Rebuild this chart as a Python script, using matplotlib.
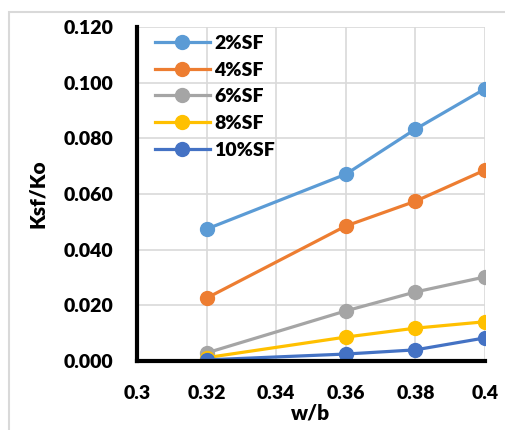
import matplotlib.pyplot as plt
from matplotlib.patches import Rectangle

wb = [0.32, 0.36, 0.38, 0.40]
sf_labels = ['2%SF', '4%SF', '6%SF', '8%SF', '10%SF']
ksf_2 = [0.0474, 0.0671, 0.0833, 0.0978]
ksf_4 = [0.0226, 0.0485, 0.0574, 0.0686]
ksf_6 = [0.0029, 0.0180, 0.0248, 0.0302]
ksf_8 = [0.0012, 0.0086, 0.0118, 0.0141]
ksf_10 = [0.0004, 0.0025, 0.0040, 0.0083]
xticks = [0.30, 0.32, 0.34, 0.36, 0.38, 0.40]
xtick_labels = ['0.3', '0.32', '0.34', '0.36', '0.38', '0.4']
yticks = [0.0, 0.02, 0.04, 0.06, 0.08, 0.10, 0.12]

colors = ['#5B9BD5', '#ED7D31', '#A5A5A5', '#FFC000', '#4472C4']

plt.rcParams['font.family'] = ['Lato', 'DejaVu Sans']
plt.rcParams['font.weight'] = 'heavy'

fig = plt.figure(figsize=(5.06, 4.30), dpi=100)
# light grey chart-area border (Excel style)
fig.patches.append(Rectangle((9 / 506, -0.01), 1.0, 1 - 12 / 430 + 0.01,
                             transform=fig.transFigure, fill=False,
                             edgecolor='#D9D9D9', linewidth=1.5))
ax = fig.add_axes([137 / 506, 1 - 361 / 430, 348 / 506, 334 / 430])

for ys, lab, c in zip([ksf_2, ksf_4, ksf_6, ksf_8, ksf_10], sf_labels, colors):
    ax.plot(wb, ys, color=c, lw=2.3, marker='o', ms=10, label=lab)

ax.set_xlim(0.30, 0.40)
ax.set_ylim(0.0, 0.12)
ax.set_xticks(xticks)
ax.set_xticklabels(xtick_labels)
ax.set_yticks(yticks)
ax.set_yticklabels(['%.3f' % v for v in yticks])
ax.tick_params(length=0, labelsize=14)
ax.tick_params(axis='y', pad=17)
ax.tick_params(axis='x', pad=17)
ax.grid(True, color='#D9D9D9', lw=1.2)
ax.set_axisbelow(True)
for s in ['top', 'right']:
    ax.spines[s].set_visible(False)
for s in ['left', 'bottom']:
    ax.spines[s].set_color('black')
    ax.spines[s].set_linewidth(3)
    ax.spines[s].set_zorder(5)

ax.set_xlabel('w/b', fontsize=15, fontweight='heavy', labelpad=1)
ax.set_ylabel('Ksf/Ko', fontsize=15, fontweight='heavy', labelpad=12)

leg = ax.legend(loc='upper left', frameon=False, fontsize=14,
                handlelength=2.8, handletextpad=0.25, labelspacing=0.5,
                borderaxespad=0.0, bbox_to_anchor=(0.03, 1.0))

fig.savefig('out.png', dpi=100)
